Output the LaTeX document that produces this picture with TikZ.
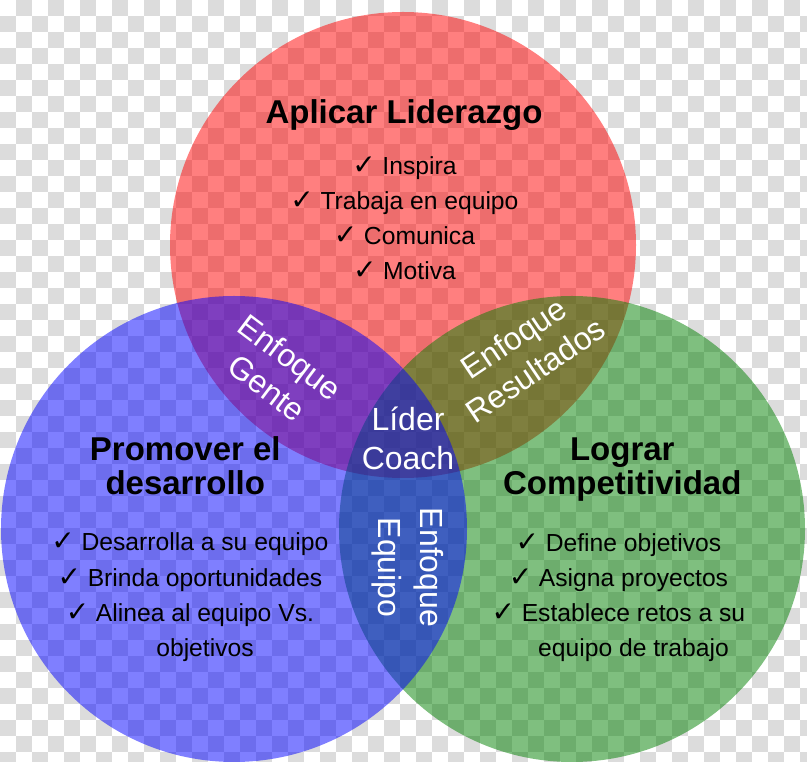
\documentclass[tikz,border=0pt]{standalone}
\usepackage{fontspec}
\setmainfont{Liberation Sans}
\newfontfamily\ckfont{DejaVu Sans}
\definecolor{chk}{RGB}{220,220,220}
\definecolor{cred}{RGB}{255,0,0}
\definecolor{cgreen}{RGB}{0,128,0}
\definecolor{cblue}{RGB}{0,0,255}
\newcommand\chkmk{\llap{{\ckfont\fontsize{21pt}{21pt}\selectfont ✓}\hspace{5pt}}}
\tikzset{
  ttl/.style={anchor=base, inner sep=0pt, font=\bfseries\fontsize{24.75pt}{30pt}\selectfont},
  itm/.style={anchor=base, inner sep=0pt, font=\fontsize{18.5pt}{26pt}\selectfont},
  wht/.style={text=white, inner sep=0pt, font=\fontsize{24pt}{29pt}\selectfont},
  venn/.style={fill opacity=0.5},
}
\begin{document}
\begin{tikzpicture}[x=0.75pt,y=-0.75pt]
\useasboundingbox (0,0) rectangle (807,762);
% checkerboard background
\begin{scope}
\clip (0,0) rectangle (807,762);
\fill[white] (0,0) rectangle (807,762);
\foreach \j in {0,...,47}{
  \pgfmathtruncatemacro\s{mod(\j+1,2)}
  \pgfmathtruncatemacro\t{\s+2}
  \foreach \i in {\s,\t,...,50}{
    \fill[chk] (\i*16,\j*16) rectangle ++(16,16);
  }
}
\end{scope}
% circles
\fill[cred, venn] (403,245) circle[radius=174.75pt];
\fill[cgreen, venn] (572,529) circle[radius=174.75pt];
\fill[cblue, venn] (234,529) circle[radius=174.75pt];
% red circle texts
\node[ttl] (tred) at (404,124) {Aplicar Liderazgo};
\node[itm] (r1) at (419.5,175) {\chkmk Inspira};
\node[itm] (r2) at (419.5,209.5) {\chkmk Trabaja en equipo};
\node[itm] (r3) at (419.5,245) {\chkmk Comunica};
\node[itm] (r4) at (419.5,280) {\chkmk Motiva};
% blue circle texts
\node[ttl] (tblue1) at (185.3,461) {Promover el};
\node[ttl] (tblue2) at (185.3,495) {desarrollo};
\node[itm] (b1) at (205,551) {\chkmk Desarrolla a su equipo};
\node[itm] (b2) at (205,586.5) {\chkmk Brinda oportunidades};
\node[itm] (b3) at (205,621.5) {\chkmk Alinea al equipo Vs.};
\node[itm] (b4) at (205,656) {objetivos};
% green circle texts
\node[ttl] (tgreen1) at (622.3,461) {Lograr};
\node[ttl] (tgreen2) at (622.3,495) {Competitividad};
\node[itm] (g1) at (633.5,552) {\chkmk Define objetivos};
\node[itm] (g2) at (633.5,587) {\chkmk Asigna proyectos};
\node[itm] (g3) at (633.5,622) {\chkmk Establece retos a su};
\node[itm] (g4) at (633.5,656) {equipo de trabajo};
% overlap labels
\node[wht, anchor=base] (l1) at (408,430.5) {Líder};
\node[wht, anchor=base] (l2) at (408,469.5) {Coach};
\node[wht, align=center, rotate=-37] (gente) at (278.5,372.5) {Enfoque\\Gente};
\node[wht, align=center, rotate=34] (result) at (524.5,354) {Enfoque\\Resultados};
\node[wht, anchor=base, rotate=-90] (eq1) at (420.3,567.5) {Enfoque};
\node[wht, anchor=base, rotate=-90] (eq2) at (378.7,567.5) {Equipo};
\end{tikzpicture}
\end{document}
